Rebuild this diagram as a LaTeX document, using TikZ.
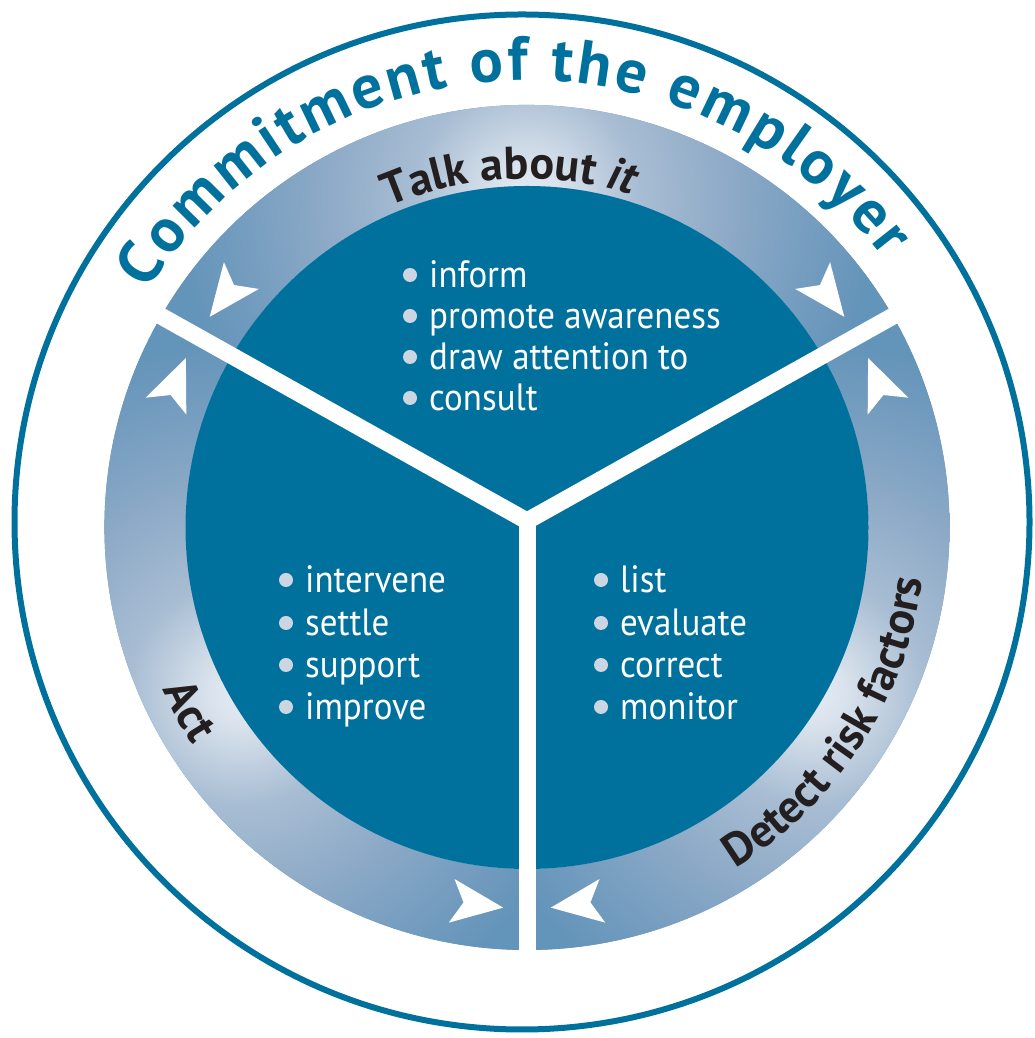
\documentclass[tikz,border=0pt]{standalone}
\usepackage{fontspec}
\setmainfont{PT Sans}
\newfontfamily\listfont[FakeStretch=0.92]{PT Sans}
\usetikzlibrary{calc,decorations.text}

\definecolor{discteal}{HTML}{00709C}
\definecolor{ringdark}{HTML}{6394B9}
\definecolor{glowa}{HTML}{E4EAF2}
\definecolor{glowb}{HTML}{DAE3ED}
\definecolor{glowc}{HTML}{A8BDD3}
\definecolor{glowd}{HTML}{8FABC8}
\definecolor{glowe}{HTML}{779EC0}
\definecolor{labelink}{HTML}{231F20}
\definecolor{bulletgray}{HTML}{CCD6E2}

% light spot in the middle of each ring segment, fading to the ring colour
% (25bp is the radius of the shaded circle)
\pgfdeclareradialshading{ringglow}{\pgfpoint{0bp}{0bp}}{%
  color(0bp)=(glowa); color(2bp)=(glowb); color(7bp)=(glowc);
  color(12.3bp)=(glowd); color(17.4bp)=(glowe); color(22bp)=(ringdark);
  color(50bp)=(ringdark)}

\tikzset{
  listtext/.style={font=\listfont\fontsize{38}{41}\selectfont, text=white,
                   inner sep=0pt, anchor=base west},
  bulletdot/.style={fill=bulletgray},
  divider/.style={draw=white, line width=17pt},
  arrowmark/.style={fill=white},
}

% one bullet line: name, x, baseline y, text
\newcommand{\mylistitem}[4]{%
  \node[listtext] (#1) at (#2,#3) {#4};
  \fill[bulletdot] (#2-19,#3+13) circle (7pt);
}

\newcommand{\ringlabelfont}{\fontsize{46}{46}\selectfont\bfseries}

\begin{document}
\begin{tikzpicture}[x=1pt,y=1pt]
\useasboundingbox (0,0) rectangle (1034,1038);

\coordinate (C) at (527,510.5);   % centre of disc and ring
\coordinate (J) at (527,517);     % meeting point of the dividers
\coordinate (O) at (522,516);     % centre of the outer circle

% outer circle
\draw[discteal, line width=6pt] (O) circle (507.5pt);

% three shaded ring segments
\foreach \m in {90,210,330} {
  \begin{scope}
    \clip ($(C)+(\m-60:422.5pt)$) arc[start angle=\m-60, end angle=\m+60, radius=422.5pt]
       -- ($(C)+(\m+60:341.5pt)$) arc[start angle=\m+60, end angle=\m-60, radius=341.5pt]
       -- cycle;
    \fill[ringdark] (C) circle (424pt);
    \shade[shading=ringglow] ($(C)+(\m:330pt)$) circle (400pt);
  \end{scope}
}

% inner disc
\fill[discteal] (C) circle (341.5pt);

% dividers
\coordinate (dA) at ($(C)+(150:428pt)$);
\coordinate (dB) at ($(C)+(30:428pt)$);
\coordinate (dC) at ($(C)+(270:428pt)$);
\draw[divider] (dA) -- (J) -- (dB);
\draw[divider] (J) -- (dC);

% white arrowheads pointing at the dividers
\foreach \a/\r in {142.5/232.5, 157.5/67.5, 262.5/352.5, 277.5/187.5, 22.5/112.5, 37.5/-52.5} {
  \coordinate (arrowpos) at ($(C)+(\a:380pt)$);
  \fill[arrowmark, shift={(arrowpos)}, rotate=\r]
    (26,0) -- (-26,22) -- (-14,0) -- (-26,-22) -- cycle;
}

% curved titles
\path[decorate, decoration={text along path, text align=fit to path,
  text={|\fontsize{62}{62}\selectfont\bfseries\color{discteal}|Commitment of the employer}}]
  ($(C)+(148:447pt)$) arc[start angle=148, end angle=37, radius=447pt];

\path[decorate, decoration={text along path, text align=center,
  text={|\ringlabelfont\color{labelink}|Talk about |\ringlabelfont\itshape\color{labelink}|it}}]
  ($(C)+(133:349pt)$) arc[start angle=133, end angle=53, radius=349pt];

\path[decorate, decoration={text along path, text align=center,
  text={|\ringlabelfont\color{labelink}|Act}}]
  ($(C)+(178.5:399pt)$) arc[start angle=178.5, end angle=238.5, radius=399pt];

\path[decorate, decoration={text along path, text align=center,
  text={|\ringlabelfont\color{labelink}|Detect risk factors}}]
  ($(C)+(287:399pt)$) arc[start angle=287, end angle=367, radius=399pt];

% bullet lists
\mylistitem{t1}{429}{750}{inform}
\mylistitem{t2}{429}{709}{promote awareness}
\mylistitem{t3}{429}{668}{draw attention to}
\mylistitem{t4}{429}{627}{consult}

\mylistitem{l1}{305}{445}{intervene}
\mylistitem{l2}{305}{402}{settle}
\mylistitem{l3}{305}{360}{support}
\mylistitem{l4}{305}{318}{improve}

\mylistitem{r1}{620}{445}{list}
\mylistitem{r2}{620}{402}{evaluate}
\mylistitem{r3}{620}{360}{correct}
\mylistitem{r4}{620}{318}{monitor}
\end{tikzpicture}
\end{document}
